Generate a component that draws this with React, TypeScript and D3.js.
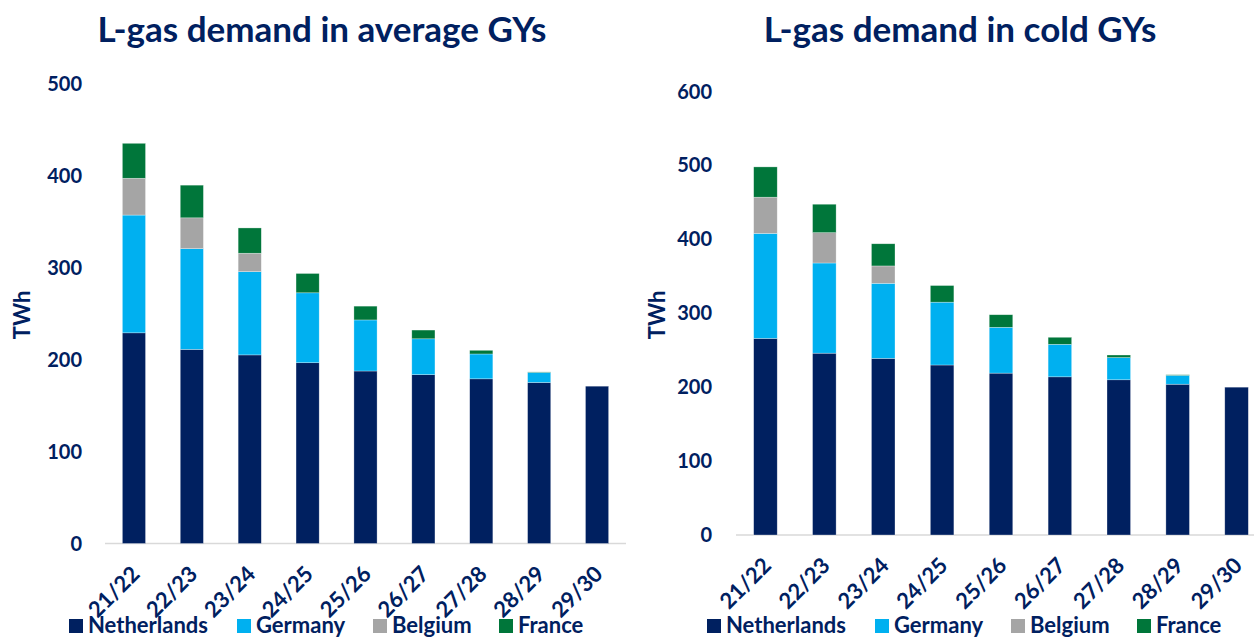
import * as d3 from "d3";

// gas years on the x axis
const years = ["21/22", "22/23", "23/24", "24/25", "25/26", "26/27", "27/28", "28/29", "29/30"];
const countries = ["Netherlands", "Germany", "Belgium", "France"];
const colors = ["#002060", "#00B0F0", "#A5A5A5", "#00763A"];

// average gas years (TWh)
const avgNetherlands = [229, 211, 205, 196.5, 187.5, 183.5, 179, 175, 171];
const avgGermany = [128, 109.5, 90.5, 76, 55.5, 39, 27, 11, 0];
const avgBelgium = [40, 33.5, 20, 0, 0, 0, 0, 0, 0];
const avgFrance = [38, 35.5, 27.5, 21, 15, 9.5, 4, 0.5, 0];

// cold gas years (TWh)
const coldNetherlands = [266, 246, 239, 230, 219, 214, 210, 204, 200];
const coldGermany = [142, 122, 101.5, 85, 62, 44, 30, 12, 0];
const coldBelgium = [49, 41, 23.5, 0, 0, 0, 0, 0, 0];
const coldFrance = [41, 38.5, 30, 22.5, 17, 9.5, 3.5, 0.8, 0];

const avgTicks = [0, 100, 200, 300, 400, 500];
const coldTicks = [0, 100, 200, 300, 400, 500, 600];

const ink = "#002060";
const font = "Lato, 'Open Sans', sans-serif";
const legendOffsets = [0, 168, 304, 430];

type PanelProps = {
  title: string;
  titleX: number;
  series: number[][];
  ticks: number[];
  x0: number;
  x1: number;
  yTop: number;
  yZero: number;
  labelX: number;
  unitX: number;
  legendX: number;
};

function Panel({ title, titleX, series, ticks, x0, x1, yTop, yZero, labelX, unitX, legendX }: PanelProps) {
  const x = d3.scaleBand<string>().domain(years).range([x0, x1]).paddingInner(0.6).paddingOuter(0.3);
  const y = d3.scaleLinear().domain([0, d3.max(ticks)!]).range([yZero, yTop]);

  const rows = years.map((yr, i) => {
    const r: any = { year: yr };
    countries.forEach((c, k) => (r[c] = series[k][i]));
    return r;
  });
  const stacked = d3.stack<any>().keys(countries)(rows);

  return (
    <g fontFamily={font} fontWeight="bold" fill={ink}>
      <text x={titleX} y={42} textAnchor="middle" fontSize={35}>{title}</text>
      {ticks.map(t => (
        <text key={t} x={labelX} y={y(t)} dy="0.35em" textAnchor="end" fontSize={20}>{t}</text>
      ))}
      <text transform={`translate(${unitX},315) rotate(-90)`} textAnchor="middle" fontSize={22}>TWh</text>
      <line x1={x0} x2={x1} y1={yZero} y2={yZero} stroke="#D9D9D9" strokeWidth={1.5} />
      {stacked.map((layer, k) => (
        <g key={countries[k]} fill={colors[k]}>
          {layer.map((d, i) => (
            d[1] - d[0] > 0 ? (
              <rect key={i} x={x(years[i])} width={x.bandwidth()} y={y(d[1])} height={y(d[0]) - y(d[1])}
                stroke="#ffffff" strokeOpacity={0.5} strokeWidth={0.6} />
            ) : null
          ))}
        </g>
      ))}
      {years.map(yr => (
        <text key={yr} transform={`translate(${x(yr)! + x.bandwidth() / 2 + 7},${yZero + 32}) rotate(-45)`}
          textAnchor="end" fontSize={22}>{yr}</text>
      ))}
      {countries.map((c, k) => (
        <g key={c} transform={`translate(${legendX + legendOffsets[k]},625)`}>
          <rect x={0} y={-6} width={14} height={14} fill={colors[k]} />
          <text x={19} y={0} dy="0.36em" fontSize={22}>{c}</text>
        </g>
      ))}
    </g>
  );
}

export default function App() {
  return (
    <svg width={1254} height={639} style={{ position: "absolute", left: 0, top: 0, background: "#fff" }}>
      <Panel title="L-gas demand in average GYs" titleX={322} series={[avgNetherlands, avgGermany, avgBelgium, avgFrance]}
        ticks={avgTicks} x0={105} x1={626} yTop={83.5} yZero={543.5} labelX={82} unitX={30} legendX={69} />
      <Panel title="L-gas demand in cold GYs" titleX={960} series={[coldNetherlands, coldGermany, coldBelgium, coldFrance]}
        ticks={coldTicks} x0={736} x1={1266} yTop={91.5} yZero={535} labelX={712} unitX={665} legendX={707} />
    </svg>
  );
}
